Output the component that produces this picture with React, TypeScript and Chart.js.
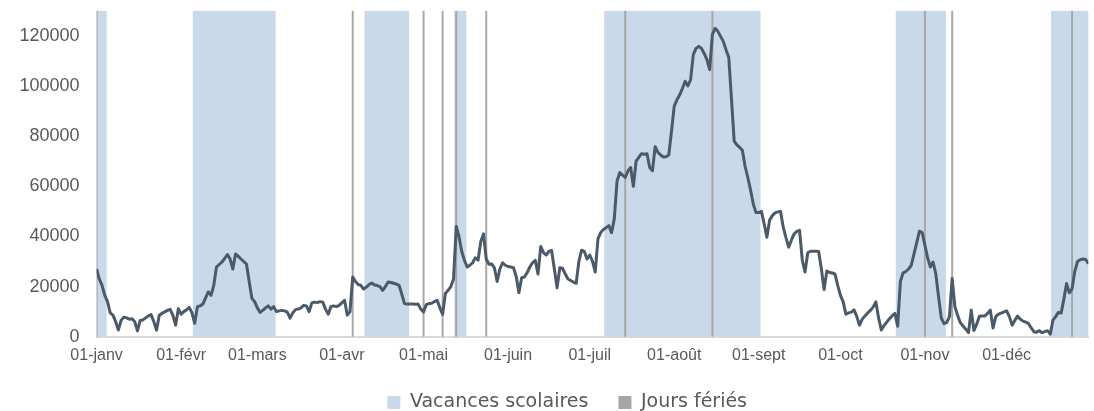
import React, { useEffect, useRef } from "react";
import { Chart, registerables } from "chart.js";

Chart.register(...registerables);

const monthStarts = [0, 31, 59, 90, 120, 151, 181, 212, 243, 273, 304, 334];
const monthLabels = ["01-janv", "01-févr", "01-mars", "01-avr", "01-mai", "01-juin", "01-juil", "01-août", "01-sept", "01-oct", "01-nov", "01-déc"];
const yTickValues = [0, 20000, 40000, 60000, 80000, 100000, 120000];
const yMax = 130000;

const janValues = [27000, 23000, 20500, 16500, 14000, 9500, 8600, 6000, 2700, 6500, 7800, 7500, 7000, 7200, 6000, 2300, 6500, 6700, 7500, 8300, 8800, 6000, 2600, 8600, 9300, 9900, 10500, 10900, 8500, 4600, 11200];
const febValues = [9000, 10000, 10700, 11700, 9500, 5300, 12000, 12300, 13000, 15500, 17900, 16500, 20500, 27800, 28800, 29800, 31200, 32800, 31000, 27000, 33000, 32000, 31000, 30000, 29000, 22000, 15300, 14000];
const marValues = [11500, 9700, 10500, 11500, 12300, 11000, 12000, 10000, 10300, 10500, 10300, 9800, 7400, 9500, 10800, 11000, 11500, 12500, 12300, 10000, 13500, 13800, 13600, 14000, 13800, 11000, 9000, 12000, 12300, 12000, 12500];
const aprValues = [13500, 14500, 8600, 10000, 23800, 22000, 20800, 20500, 19000, 19800, 20800, 21400, 20600, 20400, 20000, 18500, 20000, 21800, 21600, 21300, 21000, 20500, 17000, 13200, 13000, 13000, 13000, 12900, 13000, 11000];
const mayValues = [9900, 12800, 13200, 13300, 14000, 14500, 11500, 8900, 17200, 18500, 20000, 23000, 44000, 40000, 34000, 30500, 27800, 28500, 29500, 31500, 30500, 38000, 41000, 31000, 28900, 29000, 27500, 22000, 27000, 29500, 28500];
const junValues = [28000, 27800, 27500, 24000, 17500, 23500, 23800, 25500, 27800, 29500, 30500, 25000, 36000, 33500, 32600, 34000, 34400, 27000, 19500, 27500, 27300, 25000, 23000, 22400, 21800, 21300, 30000, 34500, 34000, 31000];
const julValues = [32600, 30000, 25800, 39000, 41500, 42800, 43500, 44300, 41500, 47000, 62000, 65500, 64500, 63500, 66000, 67500, 60000, 70000, 71500, 73000, 72800, 73000, 67500, 66200, 75800, 73500, 72500, 71700, 71800, 72500, 82000];
const augValues = [92000, 94500, 96500, 99000, 101900, 100000, 102500, 112500, 115000, 115800, 115000, 113000, 110500, 106500, 120600, 123000, 121800, 119800, 117800, 114500, 111500, 95000, 78000, 76500, 75500, 74400, 68000, 63500, 58500, 53000, 49500];
const sepValues = [49500, 50000, 45000, 39700, 46500, 48300, 49400, 49800, 50000, 43700, 39500, 35700, 38500, 41000, 42000, 42400, 30500, 25800, 33500, 34100, 34100, 34100, 34000, 27000, 18800, 26200, 25600, 25400, 25000, 20500];
const octValues = [16500, 13900, 9000, 9500, 9800, 10700, 8000, 4600, 7000, 8300, 9500, 10500, 11800, 13900, 7500, 2700, 4500, 5800, 7200, 8400, 9300, 4200, 22000, 25500, 26000, 27000, 28500, 33000, 37500, 42100, 41500];
const novValues = [36500, 31500, 27800, 29800, 25000, 16000, 7500, 5200, 5600, 8000, 23200, 12000, 8500, 5600, 4300, 3000, 1600, 10600, 2500, 5000, 8200, 8300, 8300, 9300, 10600, 3500, 8000, 9000, 9400, 9900];
const decValues = [10300, 8000, 4600, 6500, 8200, 7000, 6200, 5800, 5300, 3500, 2000, 1800, 2400, 1600, 2000, 2400, 1000, 6600, 8000, 9700, 9400, 15000, 21200, 17500, 19100, 26000, 30000, 30700, 31000, 30800, 29100];

// [first day, last day] (day index from 1 January)
const vacationPeriods = [[0, 3], [36, 65], [99, 114], [132, 135], [187, 243], [294, 311], [351, 364]];
const publicHolidays = [0, 94, 120, 127, 132, 143, 194, 226, 304, 314, 358];

const LINE_COLOR = "#4b5a69";
const BAND_COLOR = "#c9d9ea";
const HOLIDAY_COLOR = "#a6a6a6";
const TEXT_COLOR = "#595959";

const legendShift = {
  id: "legendShift",
  afterLayout(chart: any) {
    if (chart.legend) {
      chart.legend.left += 23;
      chart.legend.right += 23;
    }
  },
};

export default function App() {
  const canvasRef = useRef<HTMLCanvasElement | null>(null);

  useEffect(() => {
    const dailyValues = [
      ...janValues, ...febValues, ...marValues, ...aprValues, ...mayValues, ...junValues,
      ...julValues, ...augValues, ...sepValues, ...octValues, ...novValues, ...decValues,
    ];
    const lineData = dailyValues.map((v, i) => ({ x: i, y: v }));
    const vacationData: { x: number; y: number }[] = [];
    vacationPeriods.forEach(([a, b]) => {
      for (let d = a; d <= b; d++) vacationData.push({ x: d, y: yMax });
    });
    const holidayData = publicHolidays.map((d) => ({ x: d, y: yMax }));

    const chart = new Chart(canvasRef.current as HTMLCanvasElement, {
      type: "line",
      data: {
        datasets: [
          {
            type: "line",
            label: "Valeur",
            data: lineData,
            borderColor: LINE_COLOR,
            borderWidth: 3,
            pointRadius: 0,
            tension: 0,
            borderJoinStyle: "round",
            order: 0,
          } as any,
          {
            type: "bar",
            label: "Jours fériés",
            data: holidayData,
            backgroundColor: HOLIDAY_COLOR,
            barThickness: 1.3,
            grouped: false,
            borderWidth: 0,
            order: 1,
          } as any,
          {
            type: "bar",
            label: "Vacances scolaires",
            data: vacationData,
            backgroundColor: BAND_COLOR,
            categoryPercentage: 1,
            barPercentage: 1.4,
            grouped: false,
            borderWidth: 0,
            order: 2,
          } as any,
        ],
      },
      options: {
        animation: false,
        responsive: false,
        devicePixelRatio: 1,
        events: [],
        layout: { padding: { left: 0, right: 5.6, top: 10, bottom: -11 } },
        scales: {
          x: {
            type: "linear",
            min: 0,
            max: 364,
            offset: false,
            grid: { display: false, drawTicks: false },
            border: { display: true, color: "#d9d9d9", width: 2 },
            afterBuildTicks: (scale: any) => {
              scale.ticks = monthStarts.map((v) => ({ value: v }));
            },
            afterFit: (scale: any) => {
              scale.height = 26.3;
            },
            ticks: {
              autoSkip: false,
              maxRotation: 0,
              padding: 9,
              color: TEXT_COLOR,
              font: { family: "'Liberation Sans', Arial, sans-serif", size: 16 },
              callback: (value: any) => {
                const idx = monthStarts.indexOf(Number(value));
                return idx >= 0 ? monthLabels[idx] : "";
              },
            },
          },
          y: {
            type: "linear",
            min: 0,
            max: yMax,
            grid: { display: false, drawTicks: true, tickLength: 17 },
            border: { display: false },
            afterBuildTicks: (scale: any) => {
              scale.ticks = yTickValues.map((v) => ({ value: v }));
            },
            afterFit: (scale: any) => {
              scale.width = 96.6;
            },
            ticks: {
              padding: 0,
              color: TEXT_COLOR,
              font: { family: "'Liberation Sans', Arial, sans-serif", size: 18 },
              callback: (value: any) => String(value),
            },
          },
        },
        plugins: {
          tooltip: { enabled: false },
          legend: {
            display: true,
            position: "bottom",
            labels: {
              boxWidth: 13,
              boxHeight: 13,
              padding: 30,
              color: TEXT_COLOR,
              font: { family: "'DejaVu Sans', sans-serif", size: 19 },
              generateLabels: () => [
                {
                  text: "Vacances scolaires",
                  fillStyle: BAND_COLOR,
                  strokeStyle: BAND_COLOR,
                  lineWidth: 0,
                  hidden: false,
                  datasetIndex: 2,
                  fontColor: TEXT_COLOR,
                },
                {
                  text: "Jours fériés",
                  fillStyle: HOLIDAY_COLOR,
                  strokeStyle: HOLIDAY_COLOR,
                  lineWidth: 0,
                  hidden: false,
                  datasetIndex: 1,
                  fontColor: TEXT_COLOR,
                },
              ],
            },
          },
        },
      } as any,
      plugins: [legendShift],
    });

    return () => {
      chart.destroy();
    };
  }, []);

  return (
    <div style={{ position: "absolute", left: 0, top: 0, width: 1094, height: 411, background: "#ffffff" }}>
      <canvas ref={canvasRef} width={1094} height={411} />
    </div>
  );
}
